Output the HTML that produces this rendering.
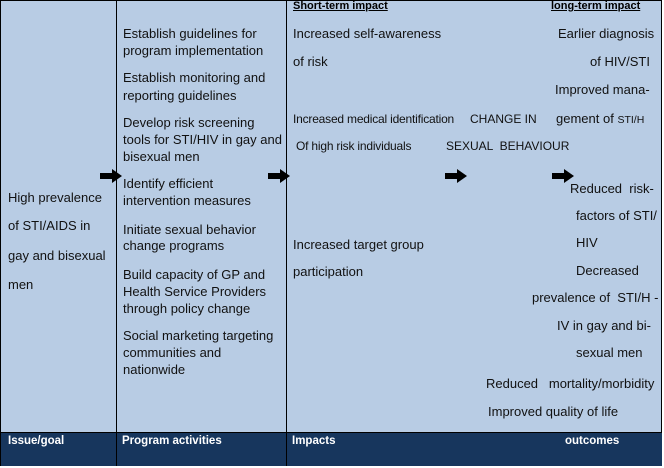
<!DOCTYPE html>
<html><head><style>
body{margin:0;width:664px;height:468px;background:#fff;position:relative;overflow:hidden;font-family:"Liberation Sans",Arial,sans-serif;}
#bg{position:absolute;left:0;top:0;width:662px;height:466px;background:#b8cce4;border:1px solid #000;box-sizing:border-box;}
.bar{position:absolute;left:1px;top:432px;width:661px;height:33px;background:#17365d;border-top:1px solid #000;}
.v{position:absolute;top:0;width:1px;height:466px;background:#000;}
.t{position:absolute;font-size:13px;line-height:16px;color:#111;white-space:pre;}
.b{position:absolute;font-size:11.5px;font-weight:bold;color:#fff;white-space:pre;top:435px;}
.h{position:absolute;font-size:11px;font-weight:bold;text-decoration:underline;color:#000;top:0;}
.a{position:absolute;}
</style></head><body>
<div id="bg"></div>
<div class="bar"></div>
<div class="v" style="left:116px"></div>
<div class="v" style="left:286px"></div>
<div class="b" style="left:8px">Issue/goal</div>
<div class="b" style="left:122px">Program activities</div>
<div class="b" style="left:292px">Impacts</div>
<div class="b" style="left:565px">outcomes</div>

<div class="t" style="left:8px;top:190px">High prevalence</div>
<div class="t" style="left:8px;top:218px">of STI/AIDS in</div>
<div class="t" style="left:8px;top:248px">gay and bisexual</div>
<div class="t" style="left:8px;top:277px">men</div>

<div class="t" style="left:123px;top:26px">Establish guidelines for</div>
<div class="t" style="left:123px;top:43px">program implementation</div>
<div class="t" style="left:123px;top:70px">Establish monitoring and</div>
<div class="t" style="left:123px;top:88px">reporting guidelines</div>
<div class="t" style="left:123px;top:115px">Develop risk screening</div>
<div class="t" style="left:123px;top:132px">tools for STI/HIV in gay and</div>
<div class="t" style="left:123px;top:149px">bisexual men</div>
<div class="t" style="left:123px;top:176px">Identify efficient</div>
<div class="t" style="left:123px;top:193px">intervention measures</div>
<div class="t" style="left:123px;top:222px">Initiate sexual behavior</div>
<div class="t" style="left:123px;top:238px">change programs</div>
<div class="t" style="left:123px;top:267px">Build capacity of GP and</div>
<div class="t" style="left:123px;top:284px">Health Service Providers</div>
<div class="t" style="left:123px;top:301px">through policy change</div>
<div class="t" style="left:123px;top:328px">Social marketing targeting</div>
<div class="t" style="left:123px;top:345px">communities and</div>
<div class="t" style="left:123px;top:362px">nationwide</div>

<div class="h" style="left:293px">Short-term impact</div>
<div class="h" style="left:551px">long-term impact</div>
<div class="t" style="left:293px;top:26px">Increased self-awareness</div>
<div class="t" style="left:293px;top:54px">of risk</div>
<div class="t" style="left:293px;top:111px;font-size:12px;letter-spacing:-0.2px">Increased medical identification</div>
<div class="t" style="left:296px;top:138px;font-size:12px;letter-spacing:-0.2px">Of high risk individuals</div>
<div class="t" style="left:470px;top:111px;font-size:12px">CHANGE IN</div>
<div class="t" style="left:446px;top:138px;font-size:12px">SEXUAL  BEHAVIOUR</div>
<div class="t" style="left:293px;top:237px">Increased target group</div>
<div class="t" style="left:293px;top:264px">participation</div>

<div class="t" style="left:558px;top:26px">Earlier diagnosis</div>
<div class="t" style="left:590px;top:54px">of HIV/STI</div>
<div class="t" style="left:555px;top:82px">Improved mana-</div>
<div class="t" style="left:556px;top:111px">gement of <span style="font-size:10.5px">STI/H</span></div>
<div class="t" style="left:570px;top:181px">Reduced  risk-</div>
<div class="t" style="left:576px;top:208px">factors of STI/</div>
<div class="t" style="left:576px;top:235px">HIV</div>
<div class="t" style="left:576px;top:263px">Decreased</div>
<div class="t" style="left:532px;top:290px">prevalence of  STI/H -</div>
<div class="t" style="left:557px;top:318px">IV in gay and bi-</div>
<div class="t" style="left:576px;top:345px">sexual men</div>
<div class="t" style="left:486px;top:376px">Reduced   mortality/morbidity</div>
<div class="t" style="left:488px;top:404px">Improved quality of life</div>

<svg class="a" style="left:0;top:0" width="664" height="468">
<defs><path id="ar" d="M0,-3 H12 V-7 L22,0 L12,7 V3 H0 Z" fill="#000"/></defs>
<use href="#ar" x="100" y="176"/>
<use href="#ar" x="268" y="176"/>
<use href="#ar" x="445" y="176"/>
<use href="#ar" x="552" y="176"/>
</svg>
</body></html>
